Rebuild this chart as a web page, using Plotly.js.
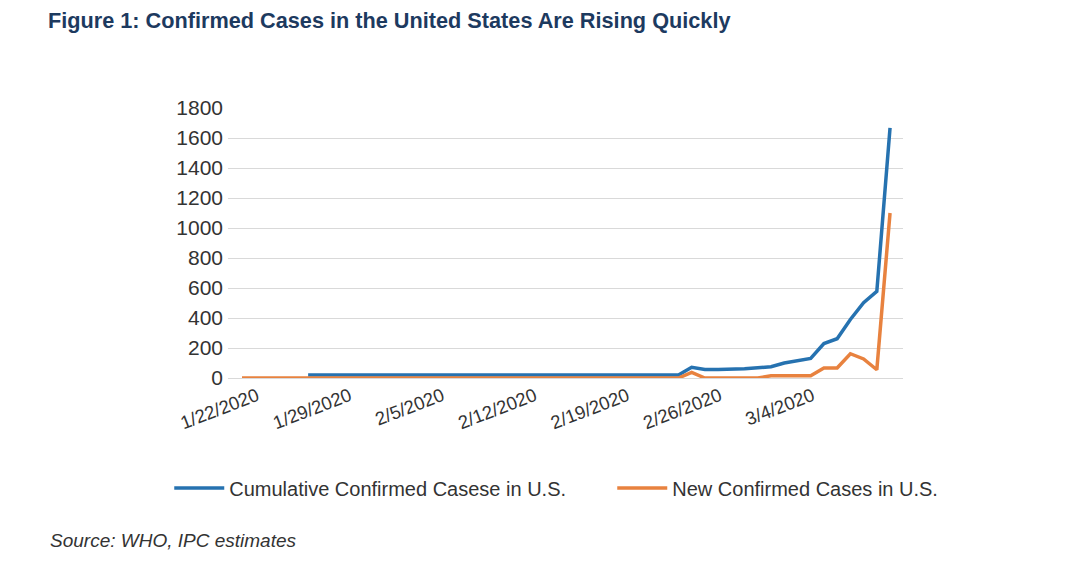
<!DOCTYPE html>
<html>
<head>
<meta charset="utf-8">
<script src="https://cdn.plot.ly/plotly-3.0.1.min.js"></script>
<style>html,body{margin:0;padding:0;background:#fff;}#chart{width:1080px;height:574px;}</style>
</head>
<body>
<div id="chart"></div>
<script>
var dates = [
  '2020-01-22','2020-01-23','2020-01-24','2020-01-25','2020-01-26','2020-01-27','2020-01-28','2020-01-29','2020-01-30','2020-01-31',
  '2020-02-01','2020-02-02','2020-02-03','2020-02-04','2020-02-05','2020-02-06','2020-02-07','2020-02-08','2020-02-09','2020-02-10',
  '2020-02-11','2020-02-12','2020-02-13','2020-02-14','2020-02-15','2020-02-16','2020-02-17','2020-02-18','2020-02-19','2020-02-20',
  '2020-02-21','2020-02-22','2020-02-23','2020-02-24','2020-02-25','2020-02-26','2020-02-27','2020-02-28','2020-02-29','2020-03-01',
  '2020-03-02','2020-03-03','2020-03-04','2020-03-05','2020-03-06','2020-03-07','2020-03-08','2020-03-09','2020-03-10','2020-03-11'
];
var cumulative = [
  null,null,null,null,null,20,20,20,20,20,
  20,20,20,20,20,20,20,20,20,20,
  20,20,20,20,20,20,20,20,20,20,
  20,20,20,20,71,57,56,58,61,68,
  75,100,115,130,230,262,390,502,577,1667
];
var newCases = [
  0,0,0,0,0,0,0,0,0,0,
  0,0,0,0,0,0,0,0,0,0,
  0,0,0,0,0,0,0,0,0,0,
  0,0,0,0,37,0,0,0,0,0,
  15,15,15,15,67,67,162,127,55,1100
];
var tickDates = ['2020-01-22','2020-01-29','2020-02-05','2020-02-12','2020-02-19','2020-02-26','2020-03-04'];
var tickLabels = ['1/22/2020','1/29/2020','2/5/2020','2/12/2020','2/19/2020','2/26/2020','3/4/2020'];
var seriesNames = ['Cumulative Confirmed Casese in U.S.', 'New Confirmed Cases in U.S.'];

var traces = [
  {x: dates, y: cumulative, name: seriesNames[0], type: 'scatter', mode: 'lines',
   line: {color: '#2672b0', width: 3.5}, connectgaps: false},
  {x: dates, y: newCases, name: seriesNames[1], type: 'scatter', mode: 'lines',
   line: {color: '#e8823f', width: 3.5}}
];

var layout = {
  width: 1080, height: 574,
  margin: {l: 228, r: 177, t: 108, b: 196},
  paper_bgcolor: '#ffffff', plot_bgcolor: '#ffffff',
  title: {
    text: 'Figure 1: Confirmed Cases in the United States Are Rising Quickly',
    xref: 'container', yref: 'container', x: 48/1080, xanchor: 'left',
    y: 1 - 20/574, yanchor: 'middle',
    font: {family: 'Liberation Sans, Arial, sans-serif', size: 21.7, weight: 'bold', color: '#1d3a5f'}
  },
  xaxis: {
    type: 'date',
    range: ['2020-01-20 22:34', '2020-03-11 23:31'],
    tickmode: 'array', tickvals: tickDates, ticktext: tickLabels,
    tickangle: -21,
    ticklabelshift: 15, ticklabelstandoff: 3,
    showgrid: false, showline: false, zeroline: false, ticks: '',
    tickfont: {family: 'Liberation Sans, Arial, sans-serif', size: 18.5, color: '#333333'},
    fixedrange: true
  },
  yaxis: {
    range: [0, 1800], dtick: 200, tick0: 0,
    showgrid: true, gridcolor: '#d9d9d9', gridwidth: 1,
    zeroline: true, zerolinecolor: '#d9d9d9', zerolinewidth: 1,
    showline: false, ticks: '',
    ticklabelstandoff: 4,
    tickfont: {family: 'Liberation Sans, Arial, sans-serif', size: 21, color: '#333333'},
    fixedrange: true
  },
  showlegend: true,
  legend: {
    orientation: 'h', xref: 'paper', yref: 'paper',
    x: (176 - 228) / 675 - 0.01, xanchor: 'left',
    y: (378 - 488) / 270, yanchor: 'middle',
    itemwidth: 50,
    entrywidth: 378, entrywidthmode: 'pixels',
    font: {family: 'Liberation Sans, Arial, sans-serif', size: 20, color: '#333333'},
    bgcolor: 'rgba(0,0,0,0)'
  },
  annotations: [{
    text: 'Source: WHO, IPC estimates',
    xref: 'paper', yref: 'paper', x: (48 - 228) / 675, xanchor: 'left',
    y: (378 - 540) / 270, yanchor: 'middle', showarrow: false,
    font: {family: 'Liberation Sans, Arial, sans-serif', size: 19, style: 'italic', color: '#333333'}
  }]
};

Plotly.newPlot('chart', traces, layout, {displayModeBar: false, staticPlot: true});
</script>
</body>
</html>
